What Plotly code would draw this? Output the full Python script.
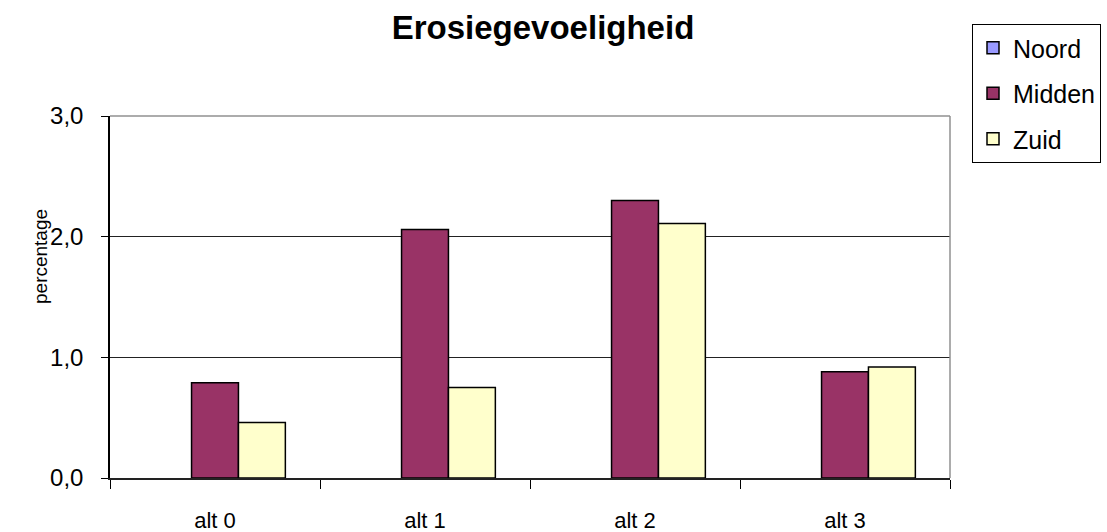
import plotly.graph_objects as go

# Erosion sensitivity per alternative and region (percentage)
categories = ["alt 0", "alt 1", "alt 2", "alt 3"]
noord = [None, None, None, None]
midden = [0.79, 2.06, 2.30, 0.88]
zuid = [0.46, 0.75, 2.11, 0.92]

y_ticks = [0.0, 1.0, 2.0, 3.0]

series = [
    ("Noord", noord, "#9999FF"),
    ("Midden", midden, "#993366"),
    ("Zuid", zuid, "#FFFFCC"),
]

fig = go.Figure()
for name, vals, color in series:
    fig.add_trace(go.Bar(
        x=categories, y=vals, name=name, legendgroup=name,
        marker=dict(color=color, line=dict(color="black", width=1.5)),
    ))

font_family = "Liberation Sans, Arial, sans-serif"

W, H = 1107, 532
L, R, T, B = 110, 157, 116, 54
PW, PH = W - L - R, H - T - B


def px_x(x):
    return (x - L) / PW


def px_y(y):
    return (H - B - y) / PH


fig.update_layout(
    width=W, height=H,
    margin=dict(l=L, r=R, t=T, b=B, autoexpand=False),
    paper_bgcolor="white", plot_bgcolor="white",
    separators=",.",
    font=dict(family=font_family, size=20, color="black"),
    title=dict(text="<b>Erosiegevoeligheid</b>", x=543 / W, xanchor="center",
               y=1 - 27 / H, yanchor="middle",
               font=dict(size=33, family=font_family)),
    barmode="group", bargap=0.33, bargroupgap=0,
    showlegend=True,
    legend=dict(x=px_x(972), xanchor="left", y=px_y(24), yanchor="top",
                bordercolor="black", borderwidth=1, bgcolor="white",
                font=dict(size=25, family=font_family),
                tracegroupgap=10, traceorder="grouped",
                itemwidth=30),
    xaxis=dict(
        type="category", tickson="boundaries", ticks="outside", ticklen=9,
        tickcolor="black", showline=True, linecolor="#222222", linewidth=1.5,
        showgrid=False, ticklabelstandoff=22, automargin=False,
        tickfont=dict(size=22),
    ),
    yaxis=dict(
        range=[0, 3], tickvals=y_ticks, tickformat=".1f",
        ticks="outside", ticklen=7, tickcolor="black",
        showline=True, linecolor="black", linewidth=1.5,
        showgrid=True, gridcolor="#222222", gridwidth=1,
        zeroline=False, ticklabelstandoff=13, automargin=False,
        tickfont=dict(size=24),
    ),
    annotations=[dict(
        text="percentage", textangle=-90, showarrow=False,
        xref="paper", yref="paper", x=px_x(40), y=px_y(257),
        xanchor="center", yanchor="middle",
        font=dict(size=19, family=font_family),
    )],
)

# gray plot-area border on the top and right edges
fig.add_shape(type="line", xref="paper", yref="paper", x0=0, x1=1, y0=1, y1=1,
              line=dict(color="#909090", width=1.5))
fig.add_shape(type="line", xref="paper", yref="paper", x0=1, x1=1, y0=0, y1=1,
              line=dict(color="#909090", width=1.5))

fig.write_html("out.html")
